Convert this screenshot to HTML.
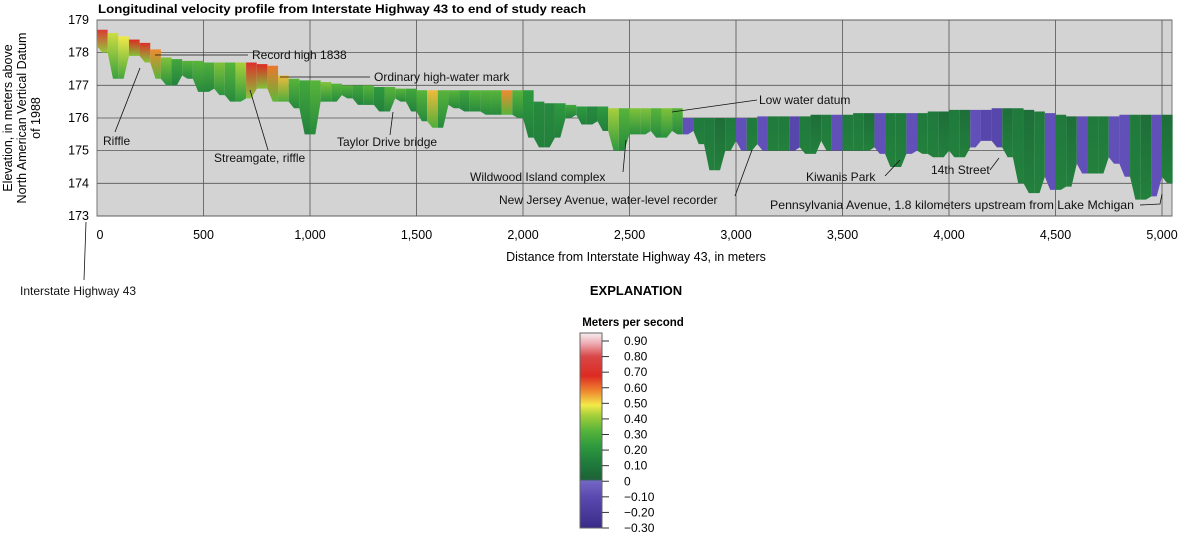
<!DOCTYPE html>
<html><head><meta charset="utf-8">
<style>
html,body{margin:0;padding:0;background:#fff;}
svg{display:block;font-family:"Liberation Sans",sans-serif;}
</style></head>
<body>
<svg id="chart" width="1179" height="537" viewBox="0 0 1179 537" xmlns="http://www.w3.org/2000/svg">
<defs>
<linearGradient id="cbar" x1="0" y1="1" x2="0" y2="0">
<stop offset="0" stop-color="#3a2a88"/>
<stop offset="0.16" stop-color="#5a4ab0"/>
<stop offset="0.24" stop-color="#7466c4"/>
<stop offset="0.25" stop-color="#1c6236"/>
<stop offset="0.33" stop-color="#1f7a3c"/>
<stop offset="0.42" stop-color="#2e9a3e"/>
<stop offset="0.5" stop-color="#58b43a"/>
<stop offset="0.58" stop-color="#a8d03a"/>
<stop offset="0.63" stop-color="#f2ea48"/>
<stop offset="0.7" stop-color="#f08a30"/>
<stop offset="0.78" stop-color="#dd2a22"/>
<stop offset="0.88" stop-color="#d84848"/>
<stop offset="0.95" stop-color="#eeb0b8"/>
<stop offset="1" stop-color="#f6eef0"/>
</linearGradient>
</defs>
<text x="98" y="13" font-size="12" font-weight="bold" textLength="488" lengthAdjust="spacingAndGlyphs">Longitudinal velocity profile from Interstate Highway 43 to end of study reach</text>
<rect x="97" y="20" width="1075" height="196" fill="#d3d3d3" stroke="#777" stroke-width="1"/>
<g id="grid"></g>
<g id="profile"></g>
<g id="axes"></g>
<g font-size="12" fill="#111" stroke-width="0.8">
<line x1="155" y1="55" x2="248" y2="55" stroke="#111"/><text x="252" y="59">Record high 1838</text>
<line x1="280" y1="77" x2="370" y2="77" stroke="#111"/><text x="374" y="81">Ordinary high-water mark</text>
<line x1="115" y1="132" x2="140" y2="68" stroke="#111"/><text x="103" y="145">Riffle</text>
<line x1="268" y1="150" x2="250" y2="90" stroke="#111"/><text x="214" y="162">Streamgate, riffle</text>
<line x1="390" y1="135" x2="393" y2="112" stroke="#111"/><text x="337" y="146">Taylor Drive bridge</text>
<line x1="623" y1="172" x2="626" y2="140" stroke="#111"/><text x="470" y="181">Wildwood Island complex</text>
<line x1="735" y1="196" x2="752" y2="150" stroke="#111"/><text x="499" y="204">New Jersey Avenue, water-level recorder</text>
<line x1="672" y1="112" x2="757" y2="100" stroke="#111"/><text x="759" y="104">Low water datum</text>
<line x1="885" y1="176" x2="900" y2="160" stroke="#111"/><text x="806" y="181">Kiwanis Park</text>
<line x1="990" y1="170" x2="999" y2="158" stroke="#111"/><text x="931" y="174">14th Street</text>
<polyline points="1140,205 1160,204 1162,194" fill="none" stroke="#111"/><text x="770" y="209" textLength="364" lengthAdjust="spacingAndGlyphs">Pennsylvania Avenue, 1.8 kilometers upstream from Lake Mchigan</text>
<line x1="86" y1="222" x2="84" y2="280" stroke="#111"/><text x="20" y="295">Interstate Highway 43</text>
</g>
<text x="636" y="261" font-size="12.5" text-anchor="middle">Distance from Interstate Highway 43, in meters</text>
<text font-size="12.5" text-anchor="middle" transform="translate(12,118) rotate(-90)">Elevation, in meters above</text>
<text font-size="12.5" text-anchor="middle" transform="translate(26,118) rotate(-90)">North American Vertical Datum</text>
<text font-size="12.5" text-anchor="middle" transform="translate(40,118) rotate(-90)">of 1988</text>
<text x="636" y="295" font-size="13" font-weight="bold" text-anchor="middle">EXPLANATION</text>
<text x="633" y="326" font-size="11.5" font-weight="bold" text-anchor="middle">Meters per second</text>
<rect x="580" y="333" width="22" height="195" fill="url(#cbar)" stroke="#666" stroke-width="1"/>
<g id="legend" font-size="12"></g>
</svg>
<script>
const NS="http://www.w3.org/2000/svg";
const stepM=50;
const surface=[178.7,178.6,178.5,178.4,178.3,178.1,177.85,177.8,177.75,177.75,177.7,177.7,177.7,177.7,177.7,177.65,177.6,177.3,177.2,177.15,
177.15,177.1,177.05,177.0,177.0,177.0,176.95,176.95,176.9,176.9,176.85,176.85,176.85,176.85,176.85,176.85,176.85,176.85,176.85,176.85,
176.85,176.5,176.45,176.45,176.4,176.35,176.35,176.35,176.3,176.3,176.3,176.3,176.3,176.3,176.3,176.0,176.0,176.0,176.0,176.0,
176.0,176.0,176.05,176.05,176.05,176.05,176.05,176.1,176.1,176.1,176.1,176.15,176.15,176.15,176.15,176.15,176.15,176.15,176.2,176.2,
176.25,176.25,176.25,176.25,176.3,176.3,176.3,176.25,176.2,176.15,176.1,176.05,176.05,176.05,176.05,176.05,176.1,176.1,176.1,176.1,
176.1,176.1];
const bed=[178.2,178.0,177.2,177.9,177.9,177.7,177.2,177.0,177.3,177.2,176.8,176.9,176.7,176.5,176.6,176.9,176.9,176.5,176.5,176.3,
175.5,176.5,176.5,176.7,176.6,176.4,176.4,176.2,176.6,176.5,176.2,175.9,175.7,176.4,176.3,176.2,176.2,176.1,176.1,176.1,
176.0,175.4,175.1,175.4,176.0,176.1,175.8,175.9,175.6,175.0,175.5,175.5,175.6,175.4,175.6,175.5,175.6,175.2,174.4,175.0,
175.3,175.0,175.2,175.0,175.0,175.0,175.1,174.9,175.3,175.0,175.0,175.0,175.0,175.1,174.9,174.5,174.9,175.0,174.9,174.8,
175.0,174.8,175.1,175.3,175.3,175.1,174.8,174.0,173.7,174.2,173.8,173.9,174.6,174.3,174.3,174.8,174.6,174.2,173.5,173.6,
174.2,174.0];
const velocity=[0.75,0.45,0.5,0.7,0.72,0.6,0.35,0.25,0.3,0.3,0.28,0.35,0.3,0.4,0.72,0.7,0.62,0.55,0.3,0.25,
0.3,0.35,0.3,0.3,0.25,0.3,0.2,0.3,0.3,0.25,0.3,0.55,0.3,0.3,0.25,0.3,0.3,0.3,0.6,0.3,
0.2,0.15,0.15,0.2,0.25,0.2,0.15,0.2,0.4,0.3,0.35,0.35,0.3,0.35,0.3,-0.1,0.1,0.1,0.05,0.1,
-0.1,0.1,-0.1,0.1,0.1,-0.15,0.1,0.05,0.1,-0.1,0.1,0.1,0.05,-0.1,0.1,0.1,-0.1,0.1,0.1,0.05,
0.1,0.05,-0.1,-0.15,-0.15,0.05,0.1,0.05,0.1,-0.1,0.1,0.05,-0.1,0.1,0.1,-0.1,-0.1,0.1,0.05,-0.1,
0.05,0.1];
const xTicks=[0,500,1000,1500,2000,2500,3000,3500,4000,4500,5000];
const xTickLabels=["0","500","1,000","1,500","2,000","2,500","3,000","3,500","4,000","4,500","5,000"];
const yTicks=[173,174,175,176,177,178,179];
const legendValues=[0.9,0.8,0.7,0.6,0.5,0.4,0.3,0.2,0.1,0,-0.1,-0.2,-0.3];
const legendLabels=["0.90","0.80","0.70","0.60","0.50","0.40","0.30","0.20","0.10","0","\u22120.10","\u22120.20","\u22120.30"];

const X=m=>97+m*0.213;
const Y=e=>216-(e-173)*32.67;
const LY=v=>528-(v+0.3)/1.2*187;
const cmap=[[-0.3,[58,42,136]],[-0.1,[96,80,184]],[-0.01,[116,102,196]],[0,[28,98,54]],[0.1,[31,122,60]],[0.2,[46,154,62]],[0.3,[88,180,58]],[0.4,[168,208,58]],[0.5,[242,234,72]],[0.6,[240,138,48]],[0.7,[221,42,34]],[0.8,[216,72,72]],[0.9,[246,230,234]]];
function color(v){
  if(v<=cmap[0][0])return "rgb("+cmap[0][1]+")";
  for(let i=1;i<cmap.length;i++){if(v<=cmap[i][0]){const a=cmap[i-1],b=cmap[i];const t=(v-a[0])/(b[0]-a[0]);return "rgb("+a[1].map((c,k)=>Math.round(c+(b[1][k]-c)*t)).join(",")+")";}}
  return "rgb("+cmap[cmap.length-1][1]+")";
}
const grid=document.getElementById('grid');
xTicks.forEach(t=>{if(t===0)return;const l=document.createElementNS(NS,'line');


l.setAttribute('x1',X(t));l.setAttribute('x2',X(t));l.setAttribute('y1',20);l.setAttribute('y2',216);l.setAttribute('stroke','#555');l.setAttribute('stroke-width','0.8');grid.appendChild(l);});
yTicks.forEach(t=>{const l=document.createElementNS(NS,'line');


l.setAttribute('x1',97);l.setAttribute('x2',1172);l.setAttribute('y1',Y(t));l.setAttribute('y2',Y(t));l.setAttribute('stroke','#555');l.setAttribute('stroke-width','0.8');grid.appendChild(l);});

const prof=document.getElementById('profile');
for(let i=0;i<surface.length-1;i++){
  const x0=X(i*stepM),x1=X((i+1)*stepM);
  const p=document.createElementNS(NS,'polygon');
  
  
  const pts=[[x0,Y(surface[i])],[x1,Y(surface[i])],[x1,Y(bed[i+1])],[(x0+x1)/2,Y(Math.min(bed[i],bed[i+1]))],[x0,Y(bed[i])]];
  p.setAttribute('points',pts.map(q=>q.join(',')).join(' '));
  const gid='g'+i;
  const g=document.createElementNS(NS,'linearGradient');
  g.setAttribute('id',gid);g.setAttribute('x1','0');g.setAttribute('y1','0');g.setAttribute('x2','0');g.setAttribute('y2','1');
  const v=velocity[i];
  const s1=document.createElementNS(NS,'stop');s1.setAttribute('offset','0');s1.setAttribute('stop-color',color(v));
  const s2=document.createElementNS(NS,'stop');s2.setAttribute('offset','1');s2.setAttribute('stop-color',color(v<0?v:Math.max(0.12,v*0.5)));
  g.appendChild(s1);g.appendChild(s2);document.querySelector('defs').appendChild(g);
  p.setAttribute('fill','url(#'+gid+')');
  prof.appendChild(p);
}
const axes=document.getElementById('axes');
xTicks.forEach((t,i)=>{const tx=document.createElementNS(NS,'text');


tx.setAttribute('x',X(t)+(t===0?3:0));tx.setAttribute('y',239);tx.setAttribute('font-size','12.5');tx.setAttribute('text-anchor','middle');tx.textContent=xTickLabels[i];axes.appendChild(tx);});
yTicks.forEach(t=>{const tx=document.createElementNS(NS,'text');


tx.setAttribute('x',89);tx.setAttribute('y',Y(t)+4);tx.setAttribute('font-size','12.5');tx.setAttribute('text-anchor','end');tx.textContent=t;axes.appendChild(tx);});

const lg=document.getElementById('legend');
legendValues.forEach((v,i)=>{const y=LY(v);
const l=document.createElementNS(NS,'line');


l.setAttribute('x1',602);l.setAttribute('x2',609);l.setAttribute('y1',y);l.setAttribute('y2',y);l.setAttribute('stroke','#333');lg.appendChild(l);
const tx=document.createElementNS(NS,'text');


tx.setAttribute('x',624);tx.setAttribute('y',y+4);tx.textContent=legendLabels[i];lg.appendChild(tx);});
</script>
</body></html>
